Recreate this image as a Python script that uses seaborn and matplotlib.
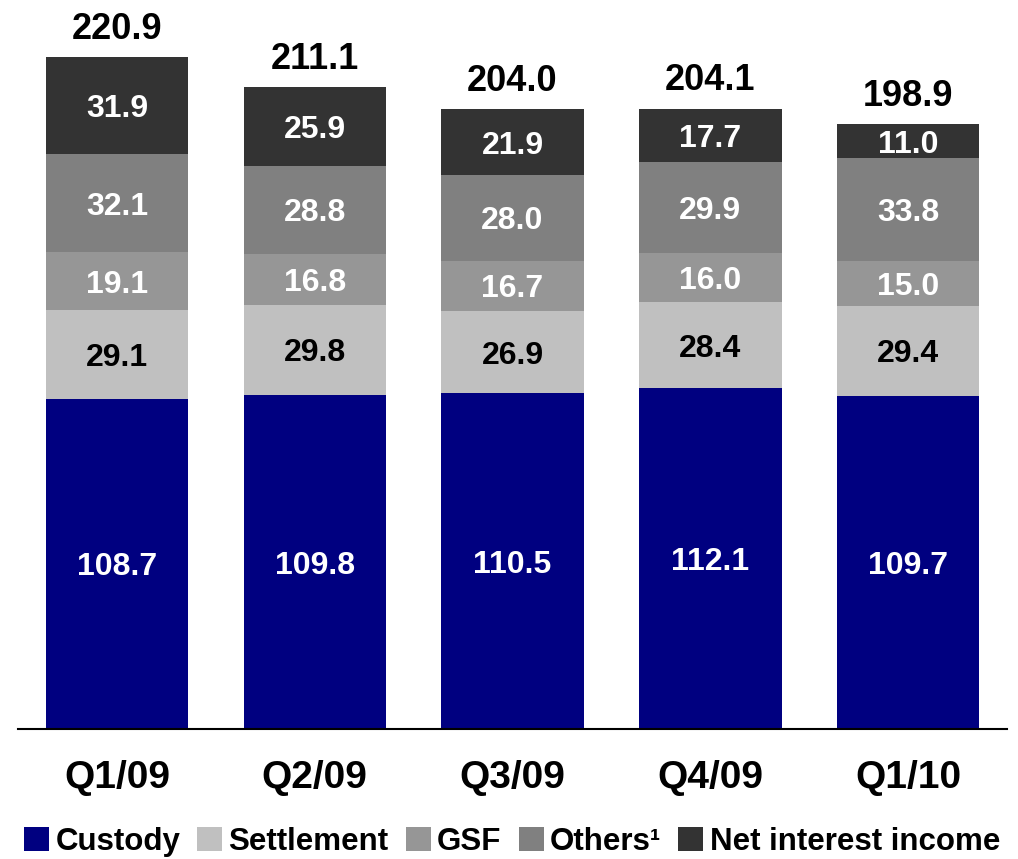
import numpy as np
import pandas as pd
import seaborn as sns
import matplotlib.pyplot as plt
from matplotlib.patches import Patch

quarters = ["Q1/09", "Q2/09", "Q3/09", "Q4/09", "Q1/10"]
custody = [108.7, 109.8, 110.5, 112.1, 109.7]
settlement = [29.1, 29.8, 26.9, 28.4, 29.4]
gsf = [19.1, 16.8, 16.7, 16.0, 15.0]
others = [32.1, 28.8, 28.0, 29.9, 33.8]
net_interest = [31.9, 25.9, 21.9, 17.7, 11.0]
totals = [220.9, 211.1, 204.0, 204.1, 198.9]

series = ["Custody", "Settlement", "GSF", "Others\u00b9", "Net interest income"]
colors = ["#000080", "#C0C0C0", "#969696", "#808080", "#333333"]
label_colors = ["white", "black", "white", "white", "white"]

df = pd.DataFrame(
    {"Custody": custody, "Settlement": settlement, "GSF": gsf,
     "Others\u00b9": others, "Net interest income": net_interest},
    index=quarters,
)
cum = df.cumsum(axis=1)

sns.set_theme(style="white")
plt.rcParams["font.family"] = ["Liberation Sans", "DejaVu Sans"]
plt.rcParams["font.weight"] = "bold"
plt.rcParams["text.color"] = "black"

fig = plt.figure(figsize=(10.18, 8.59), dpi=100)
ax = fig.add_axes([0.0177, 0.1513, 0.9715, 0.8317])

# draw cumulative totals from top layer down so each segment shows
for name, color in reversed(list(zip(series, colors))):
    sns.barplot(x=quarters, y=cum[name].values, color=color, width=0.72,
                saturation=1, ax=ax, edgecolor="none")

for i, q in enumerate(quarters):
    for name, tc in zip(series, label_colors):
        mid = cum.loc[q, name] - df.loc[q, name] / 2
        ax.text(i, mid, f"{df.loc[q, name]:.1f}", ha="center",
                va="center_baseline", color=tc, fontsize=23, fontweight="bold")
    ax.annotate(f"{totals[i]:.1f}", (i, cum.loc[q].iloc[-1]), xytext=(0, 13),
                textcoords="offset points", ha="center", va="baseline",
                fontsize=26, fontweight="bold", color="black")

ax.set_xlim(-0.5, 4.5)
ax.set_ylim(0, 235)
ax.set_yticks([])
ax.set_ylabel("")
for s in ["top", "left", "right"]:
    ax.spines[s].set_visible(False)
ax.spines["bottom"].set_color("black")
ax.spines["bottom"].set_linewidth(1.5)
ax.tick_params(axis="x", length=0, pad=22, labelsize=28)
for lbl in ax.get_xticklabels():
    lbl.set_fontweight("bold")
    lbl.set_color("black")

handles = [Patch(facecolor=c, edgecolor="none", label=n) for n, c in zip(series, colors)]
fig.legend(handles=handles, loc="center", bbox_to_anchor=(0.503, 0.02), ncol=5,
           frameon=False, handlelength=0.8, handleheight=0.8,
           handletextpad=0.2, columnspacing=0.55, borderaxespad=0,
           labelcolor="black", prop={"weight": "bold", "size": 22.5})

fig.savefig("out.png", dpi=100, facecolor="white")
plt.close()
